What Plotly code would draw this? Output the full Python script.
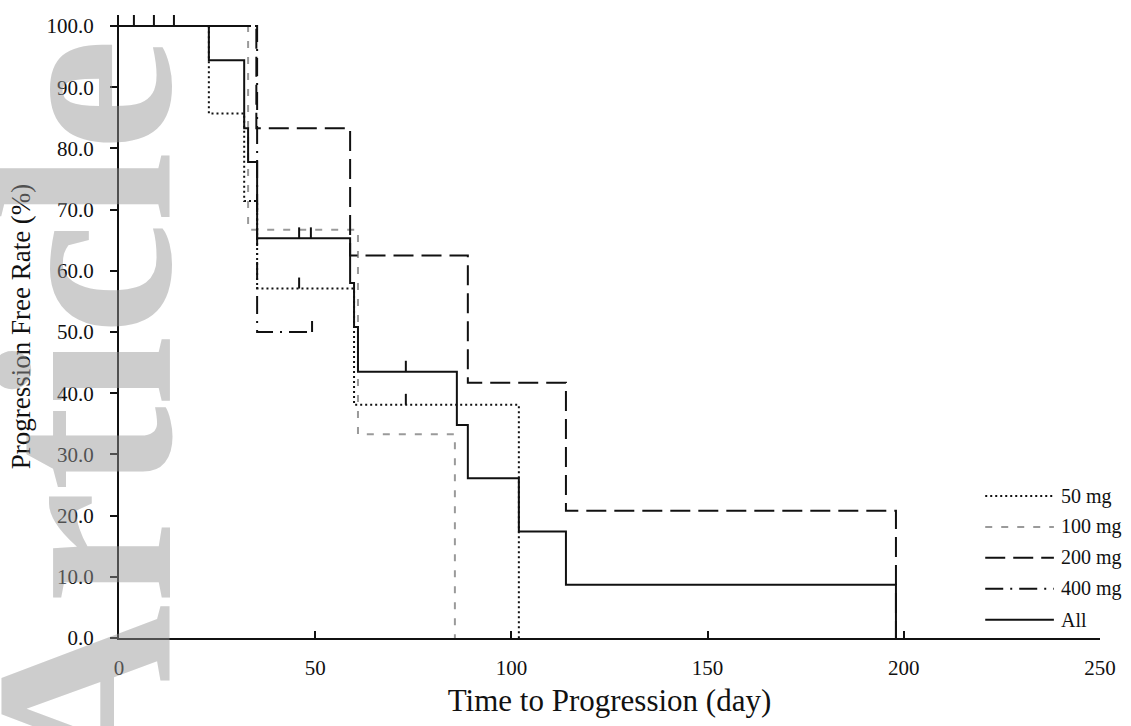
import plotly.graph_objects as go

# ---- data ----
t_50 = [0, 22.9, 31.9, 35.2, 59.9, 101.9]
s_50 = [100, 85.7, 71.4, 57.1, 38.1, 0]
c_50_t = [45.9, 73.1]
c_50_s = [57.1, 38.1]

t_100 = [0, 32.9, 60.9, 85.6]
s_100 = [100, 66.7, 33.3, 0]
c_100_t = []
c_100_s = []

t_200 = [0, 35.0, 58.9, 88.9, 113.9, 198.0]
s_200 = [100, 83.3, 62.5, 41.7, 20.8, 0]
c_200_t = []
c_200_s = []

t_400 = [0, 35.2, 49.2]
s_400 = [100, 50.0, 50.0]
c_400_t = [49.2]
c_400_s = [50.0]

t_all = [0, 22.9, 31.9, 32.9, 35.2, 58.9, 59.9, 60.9, 86.1, 88.9, 101.9, 113.9, 198.0]
s_all = [100, 94.4, 83.3, 77.8, 65.3, 58.0, 50.8, 43.5, 34.8, 26.1, 17.4, 8.7, 0]
c_all_t = [3.8, 8.9, 14.0, 45.9, 48.9, 73.1]
c_all_s = [100, 100, 100, 65.3, 65.3, 43.5]

names = ["50 mg", "100 mg", "200 mg", "400 mg", "All"]
x_ticks = [0, 50, 100, 150, 200, 250]
y_ticks = [0, 10, 20, 30, 40, 50, 60, 70, 80, 90, 100]

# ---- styles ----
FONT = "Liberation Serif, Times New Roman, serif"
series = [
    (names[1], t_100, s_100, c_100_t, c_100_s, "#9a9a9a", "7px,9px"),
    (names[0], t_50, s_50, c_50_t, c_50_s, "#111111", "2px,3px"),
    (names[2], t_200, s_200, c_200_t, c_200_s, "#111111", "20px,8px"),
    (names[3], t_400, s_400, c_400_t, c_400_s, "#111111", "18px,7px,2px,7px"),
    (names[4], t_all, s_all, c_all_t, c_all_s, "#111111", "solid"),
]
TICK_H = 1.8  # height of censor tick marks (style)

fig = go.Figure()
for name, t, s, ct, cs, col, dash in series:
    fig.add_trace(go.Scatter(
        x=t, y=s, mode="lines", name=name, line_shape="hv",
        line=dict(color=col, width=2, dash=dash), cliponaxis=False,
        showlegend=False, hoverinfo="x+y+name"))
    if ct:
        cx, cy = [], []
        for tt, ss in zip(ct, cs):
            cx += [tt, tt, None]
            cy += [ss, ss + TICK_H, None]
        fig.add_trace(go.Scatter(
            x=cx, y=cy, mode="lines", name=name + " censored",
            line=dict(color=col, width=2), cliponaxis=False,
            showlegend=False, hoverinfo="skip"))

# custom legend (long line samples like the reference)
legend_order = [
    (names[0], "#111111", "2px,3px"),
    (names[1], "#9a9a9a", "7px,9px"),
    (names[2], "#111111", "20px,8px"),
    (names[3], "#111111", "18px,7px,2px,7px"),
    (names[4], "#111111", "solid"),
]
Y_TOP = 101.8
shapes = []
annotations = []
# legend rows positioned in data-height fractions of the plot area
y0, dy = 0.232 / 1.018, 0.0505 / 1.018
for i, (nm, col, dash) in enumerate(legend_order):
    yy = y0 - i * dy
    shapes.append(dict(type="line", xref="paper", yref="paper",
                       x0=0.883, x1=0.953, y0=yy, y1=yy,
                       line=dict(color=col, width=2, dash=dash)))
    annotations.append(dict(text=nm, xref="paper", yref="paper", x=0.958, y=yy,
                            xanchor="left", yanchor="middle", showarrow=False,
                            font=dict(family=FONT, size=20, color="#111111")))

# watermark
annotations.append(dict(text="<b>Article</b>", xref="paper", yref="paper",
                        x=-0.036, y=0.36, xanchor="center", yanchor="middle",
                        textangle=-90, showarrow=False,
                        font=dict(family=FONT, size=255, color="rgba(150,150,150,0.48)")))

fig.update_layout(
    width=1131, height=726,
    margin=dict(l=119, r=31, t=15, b=88),
    paper_bgcolor="white", plot_bgcolor="white",
    font=dict(family=FONT, size=21, color="#111111"),
    shapes=shapes, annotations=annotations,
    showlegend=False,
)
fig.update_xaxes(
    range=[0, 250], tickvals=x_ticks, ticktext=[str(v) for v in x_ticks],
    ticks="inside", ticklen=7, tickwidth=1.5, tickcolor="#111111",
    showline=True, linecolor="#111111", linewidth=2, showgrid=False, zeroline=False,
    ticklabelstandoff=10,
    title=dict(text="Time to Progression (day)", font=dict(family=FONT, size=31), standoff=10),
)
fig.update_yaxes(
    range=[0, Y_TOP], tickvals=y_ticks, ticktext=[f"{v:.1f}" for v in y_ticks],
    ticks="outside", ticklen=7, tickwidth=1.5, tickcolor="#111111",
    showline=True, linecolor="#111111", linewidth=2, showgrid=False, zeroline=False,
    ticklabelstandoff=12,
    title=dict(text="Progression Free Rate (%)", font=dict(family=FONT, size=27), standoff=8),
)

fig.write_html("out.html", config={"displayModeBar": False},
               post_script="document.body.style.margin='0';")
